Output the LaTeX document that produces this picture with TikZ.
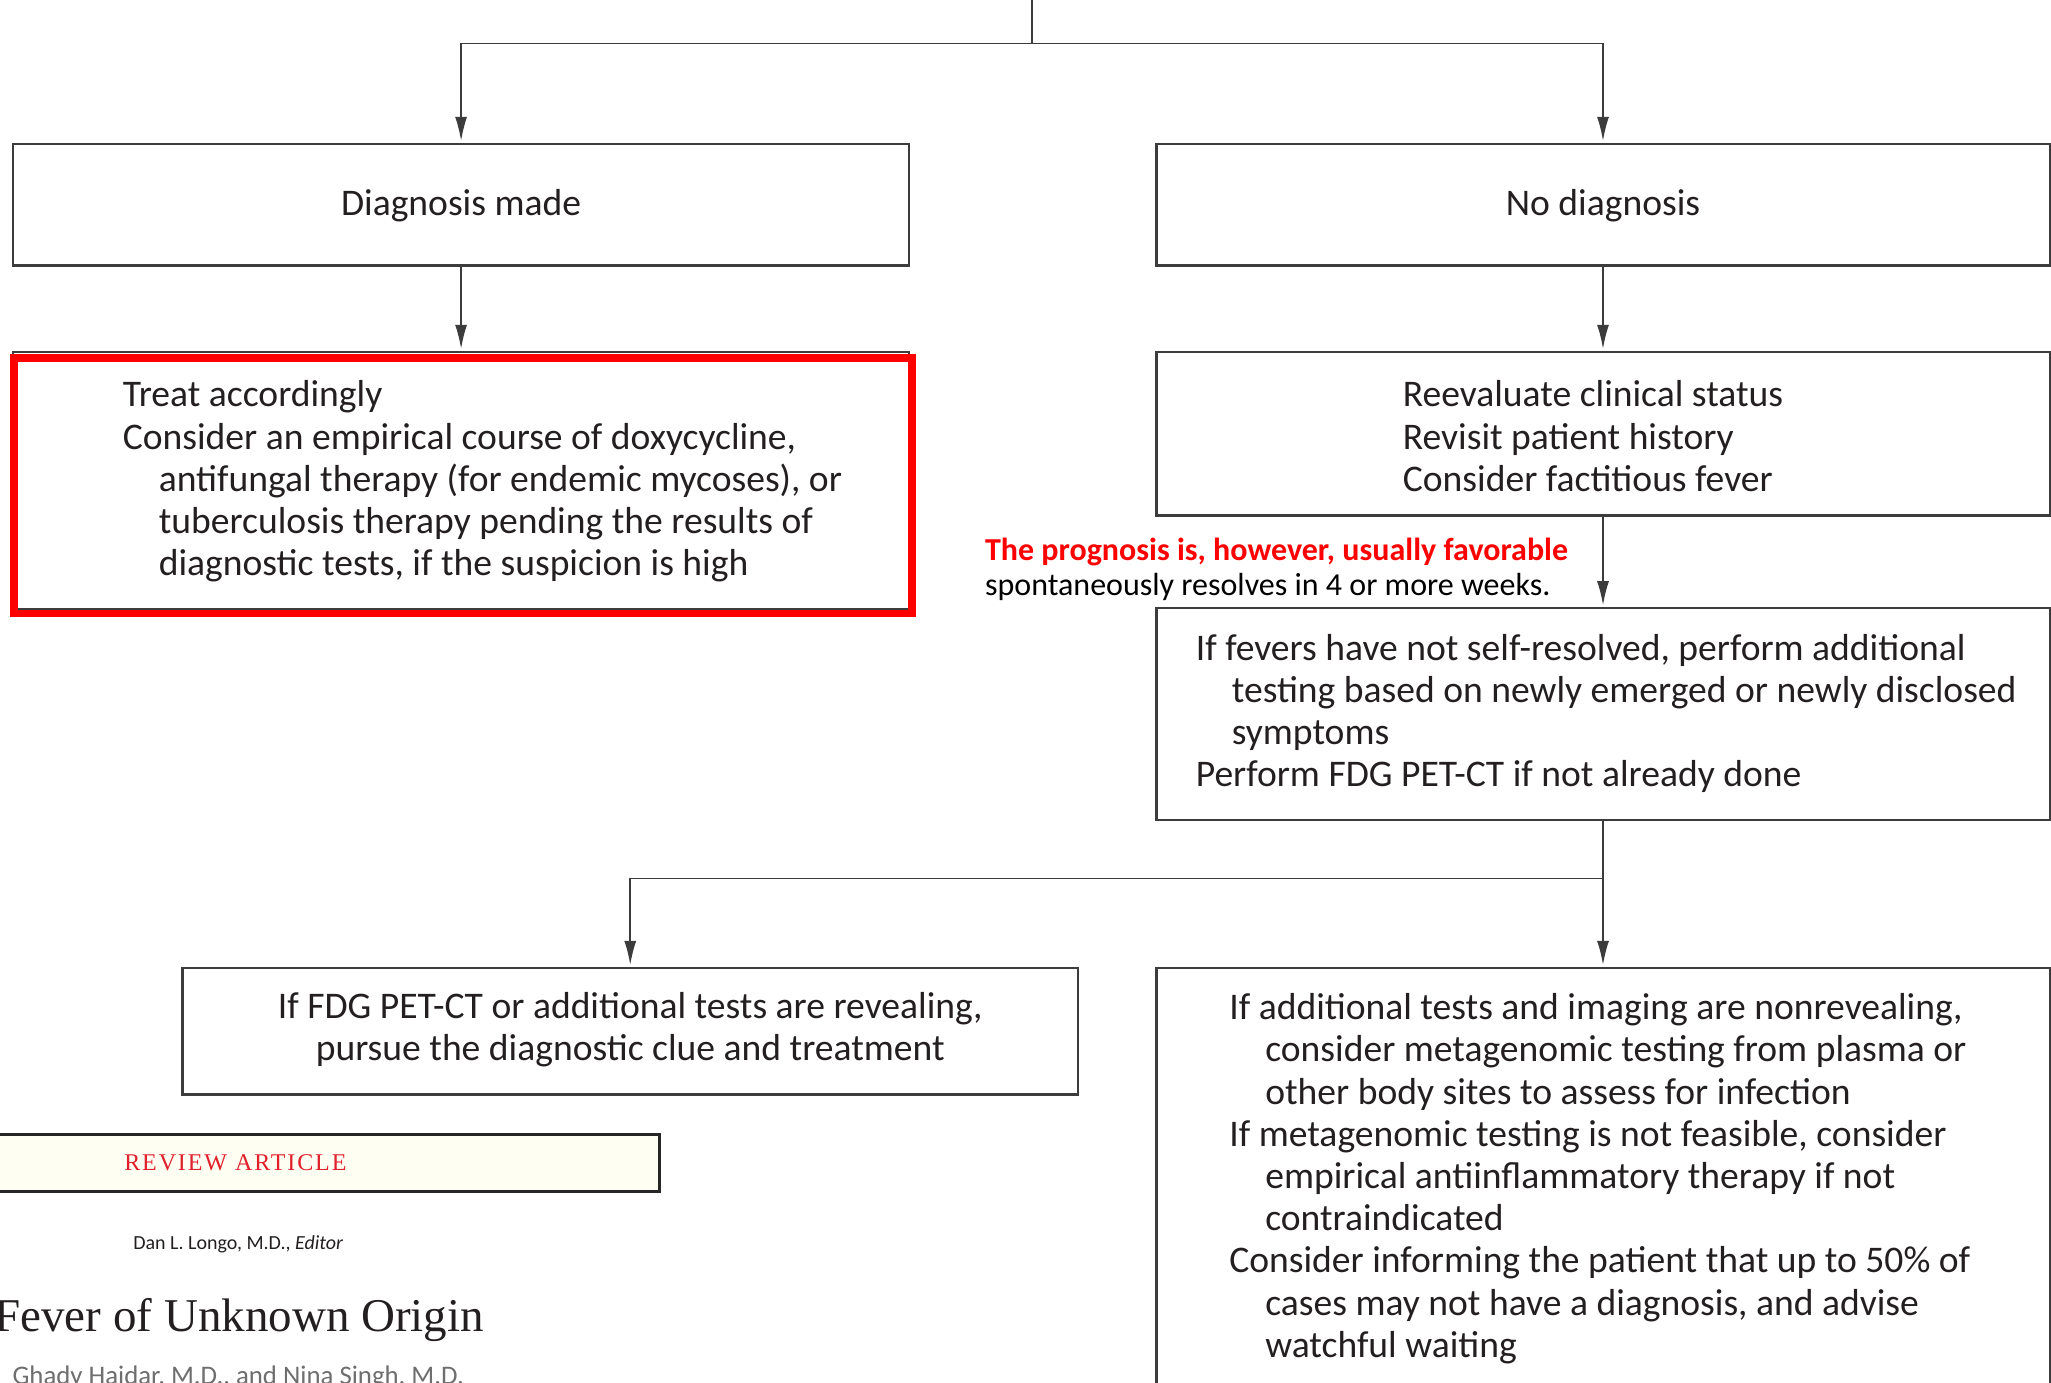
\documentclass[tikz,border=0pt]{standalone}
\usepackage{fontspec}
\setsansfont{Carlito}
\newfontfamily\titleserif{Liberation Serif}
\newfontfamily\spacedserif[LetterSpace=8]{Liberation Serif}
\usetikzlibrary{arrows.meta}
\definecolor{boxc}{HTML}{3C3C3C}
\definecolor{txt}{HTML}{231F20}
\definecolor{nejmred}{HTML}{E0202A}
\definecolor{cream}{HTML}{FFFEF2}
\definecolor{hired}{HTML}{FF0000}
\definecolor{authgray}{HTML}{6E6E6E}
\newcommand\bxfont{\sffamily\fontsize{18.8pt}{21.1pt}\selectfont\color{txt}}
\newcommand\boxtext[3]{\hspace*{#1}\parbox[t]{500pt}{#3}\hspace*{\dimexpr #2-#1-500pt\relax}}
\newcommand\ind{\hspace*{18pt}}
\begin{document}
\begin{tikzpicture}[x=0.654pt, y=-0.654pt,
  box/.style={draw=boxc, line width=1.2pt, inner sep=0pt, outer sep=0pt, anchor=north west, font=\bxfont},
  conn/.style={draw=boxc, line width=0.8pt},
  arr/.style={conn, -{Latex[length=12pt,width=6pt]}, shorten >=1.5pt},
  plain/.style={inner sep=0pt, outer sep=0pt}]
\useasboundingbox (0,0) rectangle (1568,1056.6);
\clip (0,0) rectangle (1568,1056.6);

% boxes
\node[box, text height=35.84pt, text depth=24.98pt] (dm) at (10,110) {\makebox[448pt]{Diagnosis made}};
\node[box, text height=35.84pt, text depth=24.98pt] (nd) at (884,110) {\makebox[446.68pt]{No diagnosis}};
\node[box, text height=27.47pt, text depth=101.4pt] (treat) at (10,269) {\boxtext{54.87pt}{448pt}{Treat accordingly\\
Consider an empirical course of doxycycline,\\
\ind antifungal therapy (for endemic mycoses), or\\
\ind tuberculosis therapy pending the results of\\
\ind diagnostic tests, if the suspicion is high}};
\node[box, text height=27.47pt, text depth=54.28pt] (reeval) at (884,269) {\boxtext{123.28pt}{446.68pt}{Reevaluate clinical status\\
Revisit patient history\\
Consider factitious fever}};
\node[box, text height=25.9pt, text depth=80.05pt] (fevers) at (884,465) {\boxtext{19.75pt}{446.68pt}{If fevers have not self-resolved, perform additional\\
\ind testing based on newly emerged or newly disclosed\\
\ind symptoms\\
Perform FDG PET-CT if not already done}};
\node[box, text height=25.18pt, text depth=38.0pt] (fdg) at (139.4,740) {\parbox[t]{447.9pt}{\centering If FDG PET-CT or additional tests are revealing,\\
pursue the diagnostic clue and treatment}};
\node[box, text height=25.9pt, text depth=193.2pt] (final) at (884,740) {\boxtext{36.5pt}{446.68pt}{If additional tests and imaging are nonrevealing,\\
\ind consider metagenomic testing from plasma or\\
\ind other body sites to assess for infection\\
If metagenomic testing is not feasible, consider\\
\ind empirical antiinflammatory therapy if not\\
\ind contraindicated\\
Consider informing the patient that up to 50\% of\\
\ind cases may not have a diagnosis, and advise\\
\ind watchful waiting}};

% highlight
\draw[hired, line width=3.9pt] (10.7,273.5) rectangle (697,469);

% connectors
\coordinate (top) at (789,0);
\coordinate (split) at (789,33.3);
\coordinate (split2) at (1225.5,671.5);
\draw[conn] (top) -- (split);
\draw[arr] (split) -| (dm.north);
\draw[arr] (split) -| (nd.north);
\draw[arr] (dm.south) -- (treat.north);
\draw[arr] (nd.south) -- (reeval.north);
\draw[arr] (reeval.south) -- (fevers.north);
\draw[arr] (fevers.south) -- (final.north);
\draw[arr] (split2) -| (fdg.north);

% note
\node[plain, anchor=base west] (prog) at (753.1,428.7) {\parbox[t]{420pt}{\sffamily\fontsize{16pt}{17.2pt}\selectfont
\textcolor{hired}{\bfseries The prognosis is, however, usually favorable}\\
spontaneously resolves in 4 or more weeks.}};

% article header
\node[box, draw=black!85, line width=1.4pt, fill=cream, text height=18.1pt, text depth=10.46pt, font=\spacedserif\fontsize{12pt}{14pt}\selectfont\color{nejmred}] (review) at (-5,867.3) {\boxtext{65.4pt}{333pt}{REVIEW ARTICLE}};
\node[plain, anchor=base west, font=\sffamily\fontsize{10pt}{12pt}\selectfont\color{txt}] (editor) at (101.9,955.4) {Dan L. Longo, M.D., \textit{Editor}};
\node[plain, anchor=base east, font=\titleserif\fontsize{23.5pt}{28pt}\selectfont\color{txt}] (title) at (370,1017.7) {Fever of Unknown Origin};
\node[plain, anchor=base west, font=\sffamily\fontsize{13.4pt}{16pt}\selectfont\color{authgray}] (authors) at (9.6,1058.5) {Ghady Haidar, M.D., and Nina Singh, M.D.};
\end{tikzpicture}
\end{document}
